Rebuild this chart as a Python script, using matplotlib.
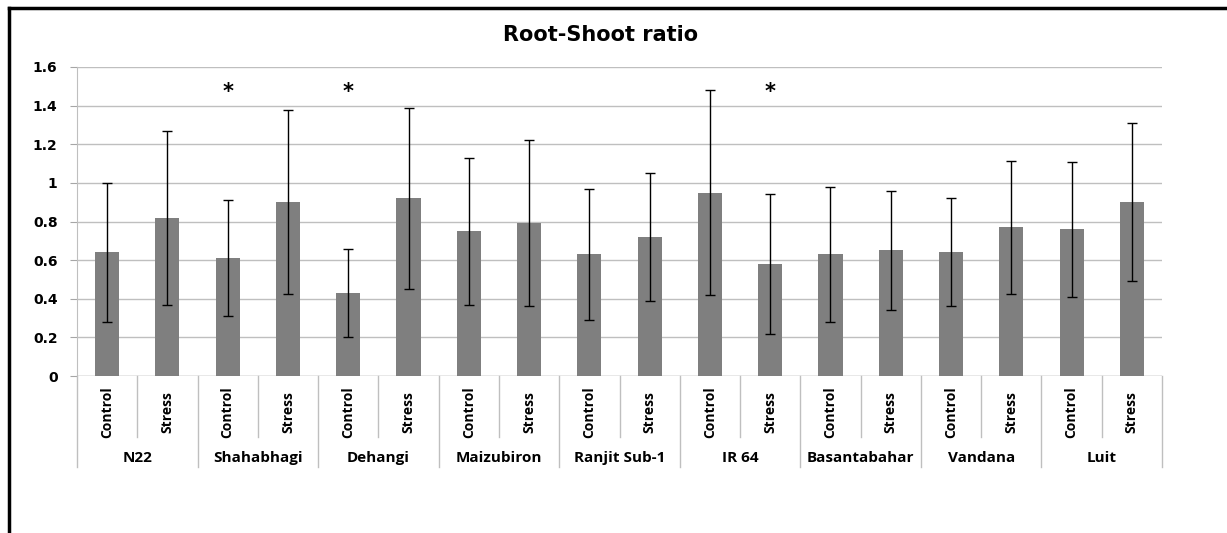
import matplotlib
matplotlib.use("Agg")
import matplotlib.pyplot as plt
from matplotlib.lines import Line2D
import numpy as np

plt.rcParams["font.family"] = ["Open Sans", "DejaVu Sans"]

GENOTYPES = ["N22", "Shahabhagi", "Dehangi", "Maizubiron", "Ranjit Sub-1",
             "IR 64", "Basantabahar", "Vandana", "Luit"]
TREATMENTS = ["Control", "Stress"]
CONTROL = [0.64, 0.61, 0.43, 0.75, 0.63, 0.95, 0.63, 0.64, 0.76]
STRESS = [0.82, 0.90, 0.92, 0.79, 0.72, 0.58, 0.65, 0.77, 0.90]
CONTROL_ERR = [0.36, 0.30, 0.23, 0.38, 0.34, 0.53, 0.35, 0.28, 0.35]
STRESS_ERR = [0.45, 0.475, 0.47, 0.43, 0.33, 0.36, 0.31, 0.345, 0.41]
# (genotype index, treatment index) marked significant
STARS = [(1, 0), (2, 0), (5, 1)]
STAR_Y = 1.47

W, H = 1227, 533
fig = plt.figure(figsize=(W / 100, H / 100), dpi=100)

# axes box in pixels: x 77..1162, y 67..376 (from top)
ax = fig.add_axes([77 / W, 1 - 376 / H, (1162 - 77) / W, (376 - 67) / H])

vals, errs = [], []
for c, s, ce, se in zip(CONTROL, STRESS, CONTROL_ERR, STRESS_ERR):
    vals += [c, s]
    errs += [ce, se]
x = np.arange(len(vals))

ax.bar(x, vals, width=0.4, color="#7f7f7f", zorder=3)
ax.errorbar(x, vals, yerr=errs, fmt="none", ecolor="black", elinewidth=1,
            capsize=3.5, capthick=1, zorder=4)

for g, t in STARS:
    ax.text(2 * g + t, STAR_Y, "*", ha="center", va="center",
            fontsize=15, fontweight="bold", family="DejaVu Sans")

ax.set_xlim(-0.5, len(vals) - 0.5)
ax.set_ylim(0, 1.6)
ax.set_yticks(np.arange(0, 1.61, 0.2))
ax.set_yticklabels(["0", "0.2", "0.4", "0.6", "0.8", "1", "1.2", "1.4", "1.6"],
                   fontsize=10, fontweight="bold", family="DejaVu Sans")
ax.tick_params(axis="y", length=5, color="#a6a6a6", pad=9)
ax.set_xticks([])
ax.grid(axis="y", color="#bfbfbf", lw=1, zorder=0)
for side in ["top", "right", "bottom"]:
    ax.spines[side].set_visible(False)
ax.spines["left"].set_color("#bfbfbf")
ax.axhline(0, color="#bfbfbf", lw=1, zorder=2)

# multi-level category table under the axis
tr = ax.get_xaxis_transform()
ph = 376 - 67
y_sub = -(437 - 376) / ph
y_grp = -(467 - 376) / ph
for i in range(len(vals) + 1):
    xe = i - 0.5
    y_end = y_grp if i % 2 == 0 else y_sub
    ax.add_line(Line2D([xe, xe], [0, y_end], transform=tr, color="#bfbfbf",
                       lw=1, clip_on=False))
for i in range(len(vals)):
    ax.text(i, -(412 - 376) / ph, TREATMENTS[i % 2], transform=tr, rotation=90,
            ha="center", va="center", fontsize=10, fontweight="bold")
for g, name in enumerate(GENOTYPES):
    ax.text(2 * g + 0.5, -(458 - 376) / ph, name, transform=tr, ha="center",
            va="center", fontsize=11, fontweight="bold")

fig.text(601 / W, 1 - 35 / H, "Root-Shoot ratio", ha="center", va="center",
         fontsize=15, fontweight="bold", family="DejaVu Sans")

# frame (left and top edges)
fig.add_artist(Line2D([9 / W, 9 / W], [0, 1 - 7.5 / H], color="black", lw=2.5))
fig.add_artist(Line2D([9 / W, 1], [1 - 7.5 / H, 1 - 7.5 / H], color="black", lw=2.5))

fig.savefig("out.png", dpi=100)
